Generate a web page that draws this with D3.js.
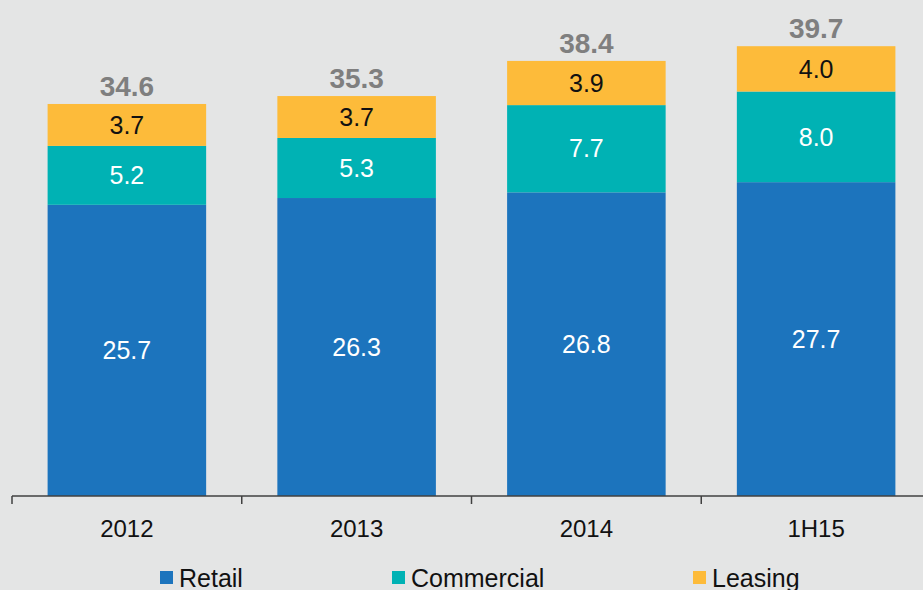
<!DOCTYPE html>
<html>
<head>
<meta charset="utf-8">
<script src="https://cdn.jsdelivr.net/npm/d3@7"></script>
<style>
  body { margin: 0; background: #e4e5e5; overflow: hidden; }
  svg { display: block; font-family: "Liberation Sans", Arial, sans-serif; }
</style>
</head>
<body>
<div id="chart"></div>
<script>
(function stacked() {

  var width = 923,
    height = 590;

  var data = [
    { period: "2012", Retail: 25.7, Commercial: 5.2, Leasing: 3.7, total: 34.6 },
    { period: "2013", Retail: 26.3, Commercial: 5.3, Leasing: 3.7, total: 35.3 },
    { period: "2014", Retail: 26.8, Commercial: 7.7, Leasing: 3.9, total: 38.4 },
    { period: "1H15", Retail: 27.7, Commercial: 8.0, Leasing: 4.0, total: 39.7 }
  ];

  var keys = ["Retail", "Commercial", "Leasing"];

  var color = d3.scaleOrdinal()
    .domain(keys)
    .range(["#1c74bd", "#00b2b4", "#fdbb3a"]);

  var textColor = { Retail: "#fff", Commercial: "#fff", Leasing: "#111" };

  var svg = d3.select("#chart")
    .append("svg")
    .attr("width", width)
    .attr("height", height);

  var x = d3.scaleBand()
    .domain(data.map(function(d) { return d.period; }))
    .range([12, 931])
    .paddingInner(0.31)
    .paddingOuter(0.155);

  var y = d3.scaleLinear()
    .domain([0, 40])
    .range([496, 42.8]);

  var series = d3.stack().keys(keys)(data);

  var layer = svg.selectAll(".layer")
    .data(series)
    .enter()
    .append("g")
    .attr("class", "layer")
    .attr("fill", function(d) { return color(d.key); });

  layer.selectAll("rect")
    .data(function(d) { return d; })
    .enter()
    .append("rect")
    .attr("x", function(d) { return x(d.data.period); })
    .attr("y", function(d) { return y(d[1]); })
    .attr("width", x.bandwidth())
    .attr("height", function(d) { return y(d[0]) - y(d[1]); });

  // value labels inside segments
  series.forEach(function(s) {
    svg.append("g")
      .selectAll("text")
      .data(s)
      .enter()
      .append("text")
      .attr("x", function(d) { return x(d.data.period) + x.bandwidth() / 2; })
      .attr("y", function(d) { return (y(d[0]) + y(d[1])) / 2; })
      .attr("dy", "0.35em")
      .attr("text-anchor", "middle")
      .style("font-size", "25px")
      .attr("fill", textColor[s.key])
      .text(function(d) { return (d[1] - d[0]).toFixed(1); });
  });

  // totals
  svg.append("g")
    .selectAll("text")
    .data(data)
    .enter()
    .append("text")
    .attr("x", function(d) { return x(d.period) + x.bandwidth() / 2; })
    .attr("y", function(d) { return y(d.total) - 8; })
    .attr("text-anchor", "middle")
    .style("font-size", "28px")
    .style("font-weight", "bold")
    .attr("fill", "#7f7f7f")
    .text(function(d) { return d.total.toFixed(1); });

  // x axis with ticks between categories
  var axis = svg.append("g")
    .attr("transform", "translate(0," + y(0) + ")");

  axis.append("line")
    .attr("x1", x.range()[0])
    .attr("x2", x.range()[1])
    .attr("stroke", "#404040")
    .attr("stroke-width", 1.5);

  var bounds = data.map(function(d) { return x(d.period) - x.step() * x.paddingInner() / 2; });
  axis.selectAll(".tick")
    .data(bounds)
    .enter()
    .append("line")
    .attr("class", "tick")
    .attr("x1", function(d) { return d; })
    .attr("x2", function(d) { return d; })
    .attr("y1", 0)
    .attr("y2", 8)
    .attr("stroke", "#404040")
    .attr("stroke-width", 1.5);

  axis.selectAll(".label")
    .data(data)
    .enter()
    .append("text")
    .attr("class", "label")
    .attr("x", function(d) { return x(d.period) + x.bandwidth() / 2; })
    .attr("y", 41)
    .attr("text-anchor", "middle")
    .style("font-size", "24px")
    .attr("fill", "#111")
    .text(function(d) { return d.period; });

  //Add a legend
  var legendX = [160, 392, 693];
  var legend = svg.selectAll(".legend")
    .data(keys)
    .enter()
    .append("g")
    .attr("class", "legend")
    .attr("transform", function(d, i) {
      return "translate(" + legendX[i] + ",571)";
    });

  legend.append("rect")
    .attr("width", 13)
    .attr("height", 13)
    .attr("fill", function(d) { return color(d); });

  legend.append("text")
    .text(function(d) { return d; })
    .style("font-size", "25px")
    .attr("fill", "#111")
    .attr("y", 16)
    .attr("x", 19);

})();
</script>
</body>
</html>
